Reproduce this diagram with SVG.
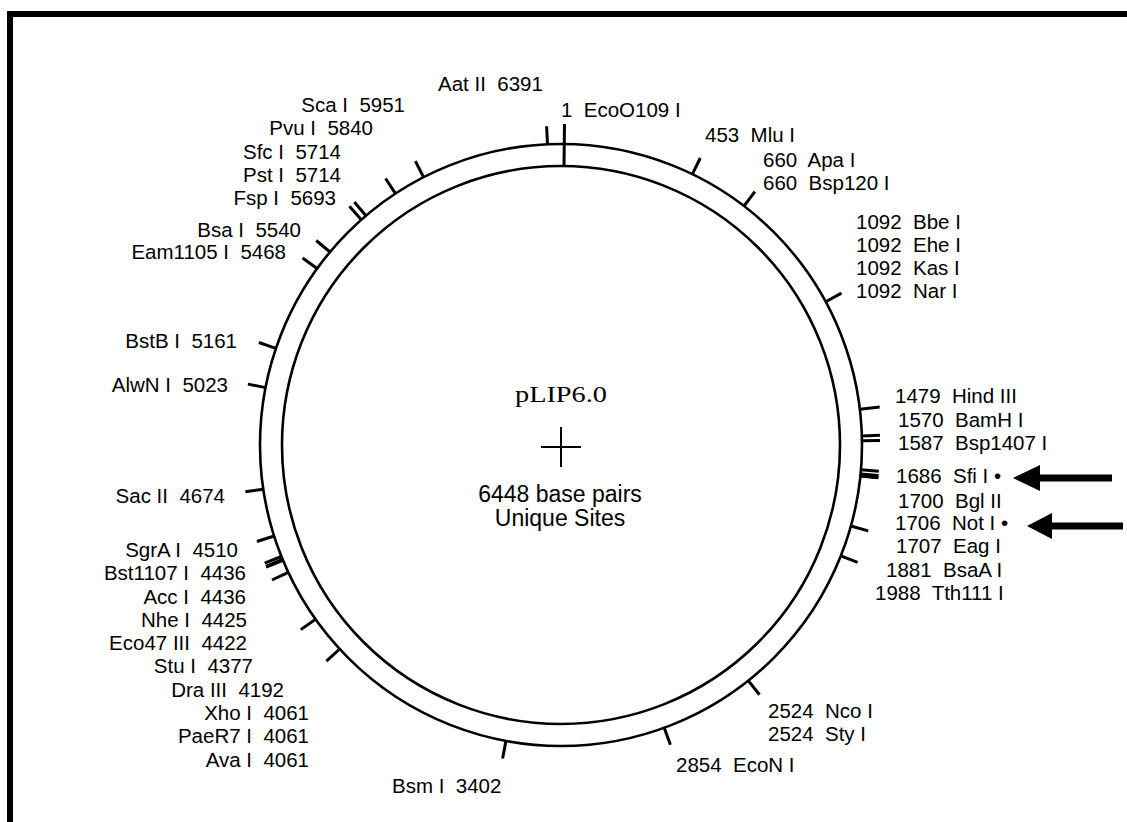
<svg xmlns="http://www.w3.org/2000/svg" width="1127" height="822" viewBox="0 0 1127 822" xml:space="preserve">
<style>
.lbl{font-family:"Liberation Sans",Arial,sans-serif;font-size:20.5px;fill:#000;white-space:pre}
.e{text-anchor:end}
.ctr{font-family:"Liberation Sans",Arial,sans-serif;font-size:23px;fill:#000;text-anchor:middle}
.ttl{font-family:"Liberation Serif","Times New Roman",serif;font-size:24px;fill:#000;text-anchor:middle}
.ring{fill:none;stroke:#000;stroke-width:2.6}
.tick line{stroke:#000;stroke-width:3;stroke-linecap:butt}
</style>
<rect width="1127" height="822" fill="#fff"/>
<g id="frame">
<rect x="10" y="14" width="1200" height="900" fill="none" stroke="#000" stroke-width="6"/>
</g>
<g id="plasmid">
<circle class="ring" cx="561" cy="445" r="301"/>
<circle class="ring" cx="561" cy="445" r="279"/>
<line x1="541" y1="447" x2="581" y2="447" stroke="#000" stroke-width="2"/>
<line x1="561" y1="427" x2="561" y2="467" stroke="#000" stroke-width="2"/>
<text class="ttl" x="561" y="402" textLength="92" lengthAdjust="spacingAndGlyphs">pLIP6.0</text>
<text class="ctr" x="560" y="502">6448 base pairs</text>
<text class="ctr" x="560" y="526">Unique Sites</text>
</g>
<g id="connectors" class="tick">
<line x1="564" y1="166" x2="564.5" y2="124"/>
<line x1="547.5" y1="144.3" x2="546.6" y2="126.3"/>
<line x1="692.4" y1="174.2" x2="700.3" y2="158"/>
<line x1="744" y1="206" x2="754.9" y2="191.7"/>
<line x1="825.7" y1="301.7" x2="841.5" y2="293.1"/>
<line x1="859.9" y1="409.3" x2="879.7" y2="407"/>
<line x1="861.9" y1="435.9" x2="879.9" y2="435.3"/>
<line x1="862" y1="440.8" x2="880" y2="440.5"/>
<line x1="861" y1="469.8" x2="878.9" y2="471.3"/>
<line x1="860.6" y1="473.9" x2="878.5" y2="475.6"/>
<line x1="860.4" y1="475.7" x2="878.3" y2="477.5"/>
<line x1="860.4" y1="476" x2="878.3" y2="477.8"/>
<line x1="850.9" y1="526" x2="868.2" y2="530.9"/>
<line x1="840.9" y1="555.8" x2="857.6" y2="562.4"/>
<line x1="748.3" y1="680.6" x2="759.5" y2="694.7"/>
<line x1="664.2" y1="727.8" x2="670.4" y2="744.7"/>
<line x1="505.9" y1="740.9" x2="502.6" y2="758.6"/>
<line x1="339.7" y1="649" x2="326.4" y2="661.2"/>
<line x1="315.5" y1="619.2" x2="300.8" y2="629.6"/>
<line x1="288.3" y1="572.3" x2="272" y2="580"/>
<line x1="281.4" y1="556.5" x2="264.7" y2="563.2"/>
<line x1="282.6" y1="559.4" x2="266" y2="566.3"/>
<line x1="282.9" y1="560.3" x2="266.3" y2="567.2"/>
<line x1="274.1" y1="536" x2="256.9" y2="541.5"/>
<line x1="263.3" y1="489.2" x2="245.4" y2="491.8"/>
<line x1="265.5" y1="387.6" x2="247.9" y2="384.1"/>
<line x1="275.9" y1="348.3" x2="258.9" y2="342.5"/>
<line x1="317.1" y1="268.5" x2="302.6" y2="258"/>
<line x1="330" y1="252" x2="316.2" y2="240.5"/>
<line x1="361.3" y1="219.7" x2="349.4" y2="206.3"/>
<line x1="366" y1="215.7" x2="354.3" y2="202"/>
<line x1="395.5" y1="193.6" x2="385.6" y2="178.5"/>
<line x1="423.6" y1="177.2" x2="415.4" y2="161.1"/>
</g>
<g id="labels-left">
<text class="lbl" x="438" y="91">Aat II  6391</text>
<text class="lbl e" x="405" y="112">Sca I  5951</text>
<text class="lbl e" x="373" y="135">Pvu I  5840</text>
<text class="lbl e" x="341" y="159">Sfc I  5714</text>
<text class="lbl e" x="341" y="182">Pst I  5714</text>
<text class="lbl e" x="336" y="205">Fsp I  5693</text>
<text class="lbl e" x="301" y="237">Bsa I  5540</text>
<text class="lbl e" x="286" y="259">Eam1105 I  5468</text>
<text class="lbl e" x="237" y="348">BstB I  5161</text>
<text class="lbl e" x="228" y="392">AlwN I  5023</text>
<text class="lbl e" x="225" y="503">Sac II  4674</text>
<text class="lbl e" x="238" y="557">SgrA I  4510</text>
<text class="lbl e" x="246" y="580">Bst1107 I  4436</text>
<text class="lbl e" x="246" y="604">Acc I  4436</text>
<text class="lbl e" x="247" y="627">Nhe I  4425</text>
<text class="lbl e" x="247" y="650">Eco47 III  4422</text>
<text class="lbl e" x="253" y="673">Stu I  4377</text>
<text class="lbl e" x="284" y="697">Dra III  4192</text>
<text class="lbl e" x="309" y="720">Xho I  4061</text>
<text class="lbl e" x="309" y="743">PaeR7 I  4061</text>
<text class="lbl e" x="309" y="767">Ava I  4061</text>
<text class="lbl" x="392" y="793">Bsm I  3402</text>
</g>
<g id="labels-right">
<text class="lbl" x="561" y="117">1  EcoO109 I</text>
<text class="lbl" x="705" y="142">453  Mlu I</text>
<text class="lbl" x="763" y="167">660  Apa I</text>
<text class="lbl" x="763" y="190">660  Bsp120 I</text>
<text class="lbl" x="856" y="229">1092  Bbe I</text>
<text class="lbl" x="856" y="252">1092  Ehe I</text>
<text class="lbl" x="856" y="275">1092  Kas I</text>
<text class="lbl" x="856" y="298">1092  Nar I</text>
<text class="lbl" x="895" y="403">1479  Hind III</text>
<text class="lbl" x="898" y="427">1570  BamH I</text>
<text class="lbl" x="898" y="450">1587  Bsp1407 I</text>
<text class="lbl" x="896" y="483">1686  Sfi I •</text>
<text class="lbl" x="898" y="508">1700  Bgl II</text>
<text class="lbl" x="895" y="530">1706  Not I •</text>
<text class="lbl" x="896" y="553">1707  Eag I</text>
<text class="lbl" x="886" y="577">1881  BsaA I</text>
<text class="lbl" x="875" y="600">1988  Tth111 I</text>
<text class="lbl" x="768" y="718">2524  Nco I</text>
<text class="lbl" x="768" y="741">2524  Sty I</text>
<text class="lbl" x="676" y="772">2854  EcoN I</text>
</g>
<g id="arrows">
<polygon points="1013,478 1040,465 1040,474.5 1112,474.5 1112,481.5 1040,481.5 1040,491"/>
<polygon points="1027,526 1052,513 1052,522.5 1123,522.5 1123,529.5 1052,529.5 1052,539"/>
</g>
</svg>
